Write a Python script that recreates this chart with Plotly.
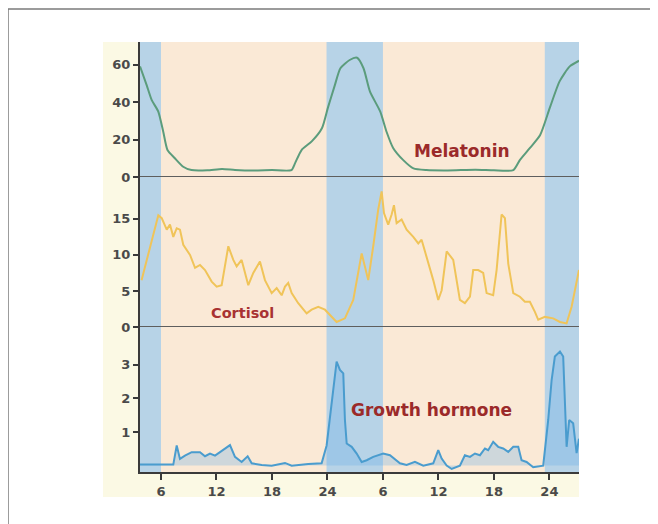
import plotly.graph_objects as go

# ---- data (hours on a continuous clock; 24 -> 24, 6 next day -> 30, ...) ----
tick_vals = [6, 12, 18, 24, 30, 36, 42, 48]
tick_text = ["6", "12", "18", "24", "6", "12", "18", "24"]
x_range = [3.73, 51.2]
night_bands = [(3.73, 6.0), (23.9, 30.0), (47.5, 51.2)]

mel_t = [3.73, 4.45, 5.0, 5.7, 6.25, 6.7, 7.5, 8.4, 9.3, 11, 12.6, 14, 16, 18, 20.1, 20.5,
         21.2, 22.3, 23.4, 24.05, 24.8, 25.4, 26.4, 27.2, 27.9, 28.6, 29.7, 30.4, 31.1, 32.2,
         33.3, 34.7, 37, 40, 42, 44.1, 44.8, 45.9, 47.0, 48.05, 49.1, 50.2, 51.2]
mel_v = [59, 49, 41, 35, 24, 14.4, 10, 5.5, 3.7, 3.6, 4.3, 3.8, 3.5, 3.7, 3.7, 7.4,
         14.4, 19, 26, 37, 49, 58, 62.4, 63.6, 58, 45.5, 35, 24, 15.5, 9,
         4.6, 3.7, 3.5, 3.9, 3.6, 3.7, 9, 15.5, 22.4, 37, 51, 59, 62]

cor_t = [3.9, 4.63, 5.71, 6.08, 6.62, 6.97, 7.33, 7.70, 8.05, 8.41, 9.14, 9.68, 10.22, 10.76,
         11.48, 12.02, 12.56, 13.28, 13.82, 14.18, 14.72, 15.44, 15.98, 16.70, 17.24, 17.97,
         18.51, 19.05, 19.41, 19.76, 20.13, 20.84, 21.75, 22.29, 23.0, 23.73, 24.45, 24.99,
         25.89, 26.79, 27.70, 28.41, 28.95, 29.49, 29.86, 30.11, 30.57, 30.94, 31.19, 31.48,
         32.02, 32.56, 33.28, 33.82, 34.18, 34.72, 35.44, 35.98, 36.35, 36.89, 37.60, 38.32,
         38.86, 39.41, 39.76, 40.30, 40.84, 41.21, 41.92, 42.29, 42.83, 43.19, 43.55, 44.09,
         44.81, 45.35, 45.89, 46.43, 46.79, 47.51, 48.41, 49.14, 49.86, 50.40, 50.94, 51.2]
cor_v = [6.5, 10.3, 15.5, 15.1, 13.5, 14.2, 12.5, 13.7, 13.5, 11.4, 10.0, 8.2, 8.6, 7.9,
         6.3, 5.6, 5.8, 11.2, 9.3, 8.4, 9.3, 5.8, 7.5, 9.1, 6.5, 4.7,
         5.4, 4.4, 5.6, 6.1, 4.7, 3.3, 1.9, 2.4, 2.8, 2.4, 1.4, 0.7,
         1.2, 3.75, 10.2, 6.5, 11.2, 16.3, 18.8, 15.8, 14.2, 15.6, 16.9, 14.4,
         14.9, 13.5, 12.5, 11.6, 12.1, 9.8, 6.5, 3.75, 5.1, 10.5, 9.3, 3.75,
         3.3, 4.2, 7.9, 7.9, 7.5, 4.7, 4.4, 7.9, 15.6, 15.1, 8.8, 4.7,
         4.2, 3.5, 3.5, 2.1, 1.0, 1.4, 1.2, 0.7, 0.5, 2.8, 6.1, 7.9]

gh_t = [3.73, 7.33, 7.70, 8.05, 8.59, 9.32, 10.22, 10.76, 11.30, 11.84, 12.38, 12.92, 13.46,
        14.0, 14.72, 15.37, 15.81, 16.89, 17.97, 19.41, 20.13, 21.92, 23.37, 23.91, 24.45,
        24.99, 25.35, 25.71, 25.89, 26.08, 26.62, 27.16, 27.70, 28.24, 28.95, 30.03, 30.76,
        31.84, 32.56, 33.46, 34.36, 35.44, 35.98, 36.35, 36.89, 37.43, 38.32, 38.86, 39.41,
        39.95, 40.49, 41.03, 41.38, 41.92, 42.46, 43.0, 43.55, 44.09, 44.63, 44.99, 45.53,
        46.25, 47.33, 47.87, 48.24, 48.59, 49.14, 49.49, 49.86, 50.14, 50.57, 50.94, 51.2]
gh_v = [0.03, 0.03, 0.6, 0.2, 0.3, 0.4, 0.4, 0.28, 0.36, 0.3, 0.4, 0.51, 0.61,
        0.26, 0.11, 0.28, 0.07, 0.02, 0.0, 0.08, 0.0, 0.05, 0.07, 0.6, 1.9,
        3.1, 2.85, 2.75, 1.36, 0.66, 0.56, 0.36, 0.11, 0.16, 0.26, 0.36, 0.31,
        0.07, 0.02, 0.11, 0.0, 0.07, 0.46, 0.21, 0.0, -0.1, 0.0, 0.31, 0.26,
        0.36, 0.31, 0.51, 0.46, 0.71, 0.56, 0.51, 0.41, 0.56, 0.56, 0.16, 0.11,
        -0.05, 0.0, 1.36, 2.55, 3.25, 3.4, 3.25, 0.56, 1.36, 1.26, 0.37, 0.8]

mel_ticks = [0, 20, 40, 60]
cor_ticks = [0, 5, 10, 15]
gh_ticks = [1, 2, 3]

# ---- styles ----
PEACH = "#fae9d6"
BLUE = "#b7d3e7"
CREAM = "#fbf9e4"
AXIS = "#3a3a3a"
LABEL_RED = "#9b2a2a"
tickfont = dict(family="DejaVu Sans", size=13, color="#4a4a4a", weight="bold")

fig = go.Figure()
fig.add_trace(go.Scatter(x=mel_t, y=mel_v, mode="lines", xaxis="x", yaxis="y",
                         line=dict(color="#5b9c7c", width=2, shape="spline", smoothing=0.6),
                         hoverinfo="skip"))
fig.add_trace(go.Scatter(x=cor_t, y=cor_v, mode="lines", xaxis="x", yaxis="y2",
                         line=dict(color="#f0c459", width=2), hoverinfo="skip"))
fig.add_trace(go.Scatter(x=gh_t, y=gh_v, mode="lines", xaxis="x", yaxis="y3",
                         fill="tozeroy", fillcolor="rgba(95,170,235,0.28)",
                         line=dict(color="#4a9cce", width=2), hoverinfo="skip"))

shapes = []
# cream strips around the plot area (left labels and bottom labels)
shapes.append(dict(type="rect", xref="paper", yref="paper", x0=-0.0843, x1=0, y0=-0.058, y1=1,
                   fillcolor=CREAM, line=dict(width=0), layer="below"))
shapes.append(dict(type="rect", xref="paper", yref="paper", x0=-0.0843, x1=1, y0=-0.058, y1=0,
                   fillcolor=CREAM, line=dict(width=0), layer="below"))
# night bands in each panel
for yr in ["y domain", "y2 domain", "y3 domain"]:
    for b0, b1 in night_bands:
        shapes.append(dict(type="rect", xref="x", yref=yr, x0=b0, x1=b1, y0=0, y1=1,
                           fillcolor=BLUE, line=dict(width=0), layer="below"))
# separators (zero lines of top and middle panels)
shapes.append(dict(type="line", xref="paper", yref="y", x0=0, x1=1, y0=0, y1=0,
                   line=dict(color="#5e5e5e", width=2), layer="above"))
shapes.append(dict(type="line", xref="paper", yref="y2", x0=0, x1=1, y0=0, y1=0,
                   line=dict(color="#5e5e5e", width=2), layer="above"))
# outer frame (top and left edges)
shapes.append(dict(type="line", xref="paper", yref="paper", x0=-0.3007, x1=1.3, y0=1.0767, y1=1.0767,
                   line=dict(color="#7a7a7a", width=1.5), layer="above"))
shapes.append(dict(type="line", xref="paper", yref="paper", x0=-0.3007, x1=-0.3007, y0=-0.2, y1=1.0767,
                   line=dict(color="#7a7a7a", width=1.5), layer="above"))

yaxis_common = dict(showline=True, linecolor=AXIS, linewidth=2, ticks="outside", ticklen=5,
                    tickwidth=1.5, tickcolor=AXIS, tickfont=tickfont, showgrid=False,
                    zeroline=False, fixedrange=True)

fig.update_layout(
    width=650, height=516, autosize=False,
    margin=dict(l=132, r=79, t=34, b=52),
    paper_bgcolor="white", plot_bgcolor=PEACH,
    showlegend=False,
    xaxis=dict(range=x_range, anchor="y3", tickvals=tick_vals, ticktext=tick_text,
               showline=True, linecolor=AXIS, linewidth=2, ticks="outside", ticklen=6,
               tickwidth=1.5, tickcolor=AXIS, tickfont=tickfont, showgrid=False,
               zeroline=False, fixedrange=True),
    yaxis=dict(domain=[0.686, 1.0], range=[0, 72], tickvals=mel_ticks, anchor="x", **yaxis_common),
    yaxis2=dict(domain=[0.3372, 0.686], range=[0, 20.8], tickvals=cor_ticks, anchor="x", **yaxis_common),
    yaxis3=dict(domain=[0, 0.3372], range=[-0.19, 4.13], tickvals=gh_ticks, anchor="x", **yaxis_common),
    shapes=shapes,
    annotations=[
        dict(text="Melatonin", x=38.5, y=13.9, xref="x", yref="y", showarrow=False,
             font=dict(family="DejaVu Sans", size=17, color=LABEL_RED, weight="bold")),
        dict(text="Cortisol", x=14.76, y=1.95, xref="x", yref="y2", showarrow=False,
             font=dict(family="DejaVu Sans", size=14.5, color="#a83232", weight="bold")),
        dict(text="Growth hormone", x=35.3, y=1.66, xref="x", yref="y3", showarrow=False,
             font=dict(family="DejaVu Sans", size=17, color=LABEL_RED, weight="bold")),
    ],
)

fig.write_html("out.html")
